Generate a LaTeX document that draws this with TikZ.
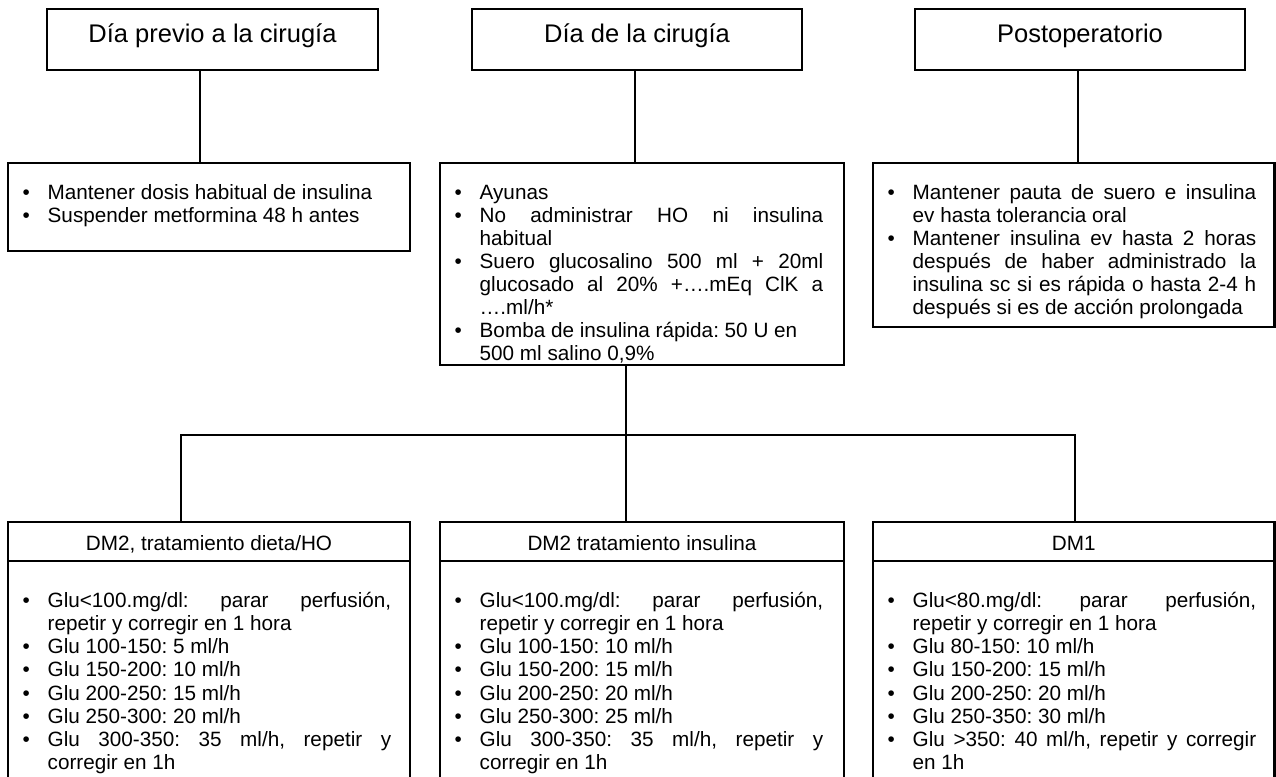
\documentclass[tikz,border=0pt]{standalone}
\usepackage{fontspec}
\setmainfont{Liberation Sans}
\usetikzlibrary{positioning}
\frenchspacing
\hyphenpenalty=10000
\exhyphenpenalty=10000
\pretolerance=10000
\tolerance=10000
\newcommand{\bul}{\par\noindent\hangindent=25pt\hangafter=1\makebox[25pt][l]{\strut\textbullet}}

\begin{document}
\begin{tikzpicture}[
  x=1pt, y=-1pt,
  frame/.style={draw, line width=2.1pt, inner sep=0pt, outer sep=0pt, anchor=north west},
  stage/.style={frame, minimum height=61pt, font=\fontsize{25.5}{30}\selectfont,
    text height=20pt, text depth=15pt},
  group/.style={frame, minimum height=39pt, font=\fontsize{20.7}{23.2}\selectfont,
    text height=20pt, text depth=3pt},
  items/.style={anchor=north west, inner sep=0pt, text width=368.5pt, align=justify,
    font=\fontsize{20.7}{23.2}\selectfont},
  topitems/.style={items, font=\fontsize{20.7}{22.9}\selectfont},
  link/.style={line width=1.8pt},
]
\useasboundingbox (0,0) rectangle (1276,776);
% the three moments
\node[stage, minimum width=331pt] (prev) at (47,9) {Día previo a la cirugía};
\node[stage, minimum width=330pt] (surg) at (472,9) {Día de la cirugía};
\node[stage, minimum width=330pt] (post) at (915,9) {Postoperatorio};
\node[frame, minimum width=402pt, minimum height=88pt] (prevlist) at (8,163) {};
\node[frame, minimum width=404pt, minimum height=202pt] (surglist) at (440,163) {};
\node[frame, minimum width=401.5pt, minimum height=164pt] (postlist) at (873,163) {};
\node[topitems] (prevtext) at ([xshift=14.5pt, yshift=-13.8pt]prevlist.north west)
  {\bul Mantener dosis habitual de insulina
   \bul Suspender metformina 48 h antes\par};
\node[topitems] (surgtext) at ([xshift=14.5pt, yshift=-13.8pt]surglist.north west)
  {\bul Ayunas
   \bul No administrar HO ni insulina\break habitual
   \bul Suero glucosalino 500 ml + 20ml\break glucosado al 20\% +….mEq ClK a\break ….ml/h*
   \bul Bomba de insulina rápida: 50 U en\hfil\break 500 ml salino 0,9\%\par};
\node[topitems] (posttext) at ([xshift=14.5pt, yshift=-13.8pt]postlist.north west)
  {\bul Mantener pauta de suero e insulina\break ev hasta tolerancia oral
   \bul Mantener insulina ev hasta 2 horas\break después de haber administrado la\break
   insulina sc si es rápida o hasta 2-4 h\break después si es de acción prolongada\par};
% pumps by type of diabetes
\node[group, minimum width=402pt] (dmho) at (8,522) {DM2, tratamiento dieta/HO};
\node[group, minimum width=404pt] (dm2ins) at (440,522) {DM2 tratamiento insulina};
\node[group, minimum width=401.5pt] (dm1) at (873,522) {DM1};
\node[frame, anchor=north, minimum width=402pt, minimum height=230pt, below=0pt of dmho] (dmhobody) {};
\node[frame, anchor=north, minimum width=404pt, minimum height=230pt, below=0pt of dm2ins] (dm2insbody) {};
\node[frame, anchor=north, minimum width=401.5pt, minimum height=230pt, below=0pt of dm1] (dm1body) {};
\node[items] (dmhotext) at ([xshift=14.5pt, yshift=-22.8pt]dmhobody.north west)
  {\bul Glu<100.mg/dl: parar perfusión,\break repetir y corregir en 1 hora
   \bul Glu 100-150: 5 ml/h
   \bul Glu 150-200: 10 ml/h
   \bul Glu 200-250: 15 ml/h
   \bul Glu 250-300: 20 ml/h
   \bul Glu 300-350: 35 ml/h, repetir y\break corregir en 1h\par};
\node[items] (dm2instext) at ([xshift=14.5pt, yshift=-22.8pt]dm2insbody.north west)
  {\bul Glu<100.mg/dl: parar perfusión,\break repetir y corregir en 1 hora
   \bul Glu 100-150: 10 ml/h
   \bul Glu 150-200: 15 ml/h
   \bul Glu 200-250: 20 ml/h
   \bul Glu 250-300: 25 ml/h
   \bul Glu 300-350: 35 ml/h, repetir y\break corregir en 1h\par};
\node[items] (dm1text) at ([xshift=14.5pt, yshift=-22.8pt]dm1body.north west)
  {\bul Glu<80.mg/dl: parar perfusión,\break repetir y corregir en 1 hora
   \bul Glu 80-150: 10 ml/h
   \bul Glu 150-200: 15 ml/h
   \bul Glu 200-250: 20 ml/h
   \bul Glu 250-350: 30 ml/h
   \bul Glu >350: 40 ml/h, repetir y corregir\break en 1h\par};
% connectors
\draw[link] ([xshift=-12.5pt]prev.south) -- ([xshift=-12.5pt]prev.south |- prevlist.north);
\draw[link] ([xshift=-2pt]surg.south) -- ([xshift=-2pt]surg.south |- surglist.north);
\draw[link] ([xshift=-2pt]post.south) -- ([xshift=-2pt]post.south |- postlist.north);
\coordinate (fork) at (626,435);
\draw[link] (surglist.south -| fork) -- (dm2ins.north -| fork);
\draw[link] ([xshift=-28pt]dmho.north) |- (fork) -| ([xshift=1pt]dm1.north);
\end{tikzpicture}
\end{document}
